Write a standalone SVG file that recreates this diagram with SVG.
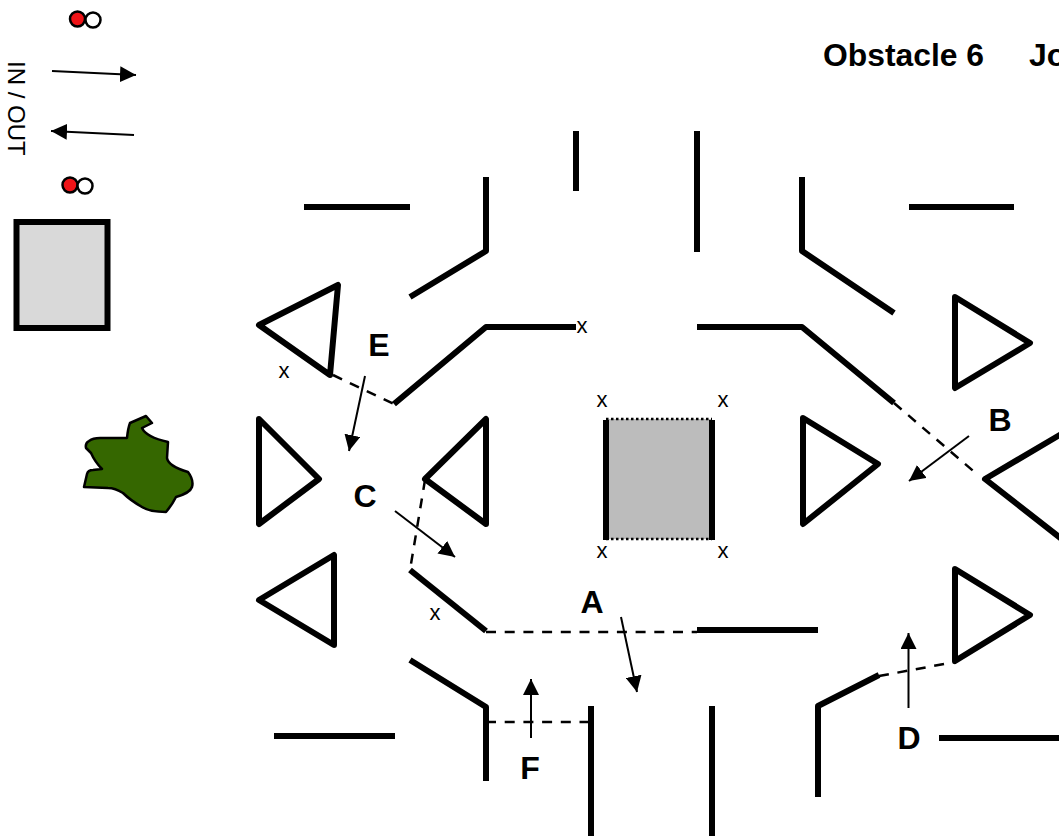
<svg xmlns="http://www.w3.org/2000/svg" width="1059" height="836" viewBox="0 0 1059 836">
<style>
.w{fill:none;stroke:#000;stroke-width:6;stroke-linejoin:round}
.t{fill:#fff;stroke:#000;stroke-width:6;stroke-linejoin:round}
.d{fill:none;stroke:#000;stroke-width:2.500;stroke-dasharray:10 8.700}
.a{fill:none;stroke:#000;stroke-width:2;marker-end:url(#ah)}
.l{font:bold 32px "Liberation Sans",Arial,sans-serif;text-anchor:middle;fill:#000}
.x{font:22px "Liberation Sans",Arial,sans-serif;text-anchor:middle;fill:#000}
.h{font:bold 32px "Liberation Sans",Arial,sans-serif;fill:#000}
.c{stroke:#000;stroke-width:2.500}
</style>
<defs><marker id="ah" markerUnits="userSpaceOnUse" markerWidth="17" markerHeight="16" refX="16" refY="8" orient="auto"><path d="M0 0L16 8L0 16Z" fill="#000"/></marker></defs>
<g id="title"><text class="h" x="823" y="66" textLength="161" lengthAdjust="spacingAndGlyphs">Obstacle 6</text><text class="h" x="1029" y="66">Jo</text></g>
<g id="legend">
<circle class="c" cx="77.500" cy="19" r="7.500" fill="#f01418"/><circle class="c" cx="93" cy="20" r="7.500" fill="#fff"/>
<circle class="c" cx="70" cy="185" r="7.500" fill="#f01418"/><circle class="c" cx="85" cy="186" r="7.500" fill="#fff"/>
<text transform="translate(8,61) rotate(90)" font-family="Liberation Sans, Arial, sans-serif" font-size="24">IN / OUT</text>
<rect x="16.500" y="222" width="91" height="106" fill="#d9d9d9" stroke="#000" stroke-width="6"/>
<path id="blob" d="M84 487L87 474Q88 470 93 470L102 469Q95 462 91 453L86 448Q85 443 89 441Q93 438 100 438L127 438Q128 428 130 423L146 416L152 423L142 428Q146 437 168 442L167 458Q168 466 188 472Q194 480 192 487Q190 493 176 497Q172 505 166 512Q150 512 142 507Q130 500 123 493Q115 488 108 488Z" fill="#356700" stroke="#000" stroke-width="2.500" stroke-linejoin="round"/>
</g>
<g id="obstacle">
<rect x="606" y="419" width="106" height="120" fill="#bcbcbc"/>
<path d="M606 419H712M606 539H712" fill="none" stroke="#000" stroke-width="2.500" stroke-dasharray="2.500 2.500"/>
<path d="M606 420V540M712 420V540" fill="none" stroke="#000" stroke-width="6"/>
</g>
<g id="walls">
<path class="w" d="M304 207H410"/>
<path class="w" d="M410 297L486 251V177"/>
<path class="w" d="M576 131V191"/>
<path class="w" d="M697 131V252"/>
<path class="w" d="M802 177V251L894 313"/>
<path class="w" d="M909 207H1014"/>
<path class="w" d="M394 404L486 327H576"/>
<path class="w" d="M697 327H802L894 403"/>
<path class="w" d="M410 570L486 631"/>
<path class="w" d="M697 630H818"/>
<path class="w" d="M410 660L486 707V781"/>
<path class="w" d="M274 736H395"/>
<path class="w" d="M591 706V836"/>
<path class="w" d="M712 706V836"/>
<path class="w" d="M818 797V706L879 675"/>
<path class="w" d="M939 738H1059"/>
</g>
<g id="triangles">
<path class="t" d="M259 325L338 285L330 375Z"/>
<path class="t" d="M259 419L319 479L259 524Z"/>
<path class="t" d="M425 479L486 419V524Z"/>
<path class="t" d="M259 600L334 555V645Z"/>
<path class="t" d="M955 297L1030 343L955 388Z"/>
<path class="t" d="M803 418L878 464L803 524Z"/>
<path class="t" d="M985 479L1063 433V540Z"/>
<path class="t" d="M955 569L1030 615L955 661Z"/>
</g>
<g id="connectors">
<path class="d" d="M333 375L394 404"/>
<path class="d" d="M425 480L410 570"/>
<path class="d" d="M486 632H697"/>
<path class="d" d="M486 722H591"/>
<path class="d" d="M879 676L955 662"/>
<path class="d" d="M894 403L978 475"/>
<path class="a" d="M52 71L136 75"/>
<path class="a" d="M134 135L51 131"/>
<path class="a" d="M365 376L349 451"/>
<path class="a" d="M395 511L455 557"/>
<path class="a" d="M621 617L637 692"/>
<path class="a" d="M531 738V679"/>
<path class="a" d="M908.500 708V633"/>
<path class="a" d="M969 436L909 481"/>
</g>
<g id="labels">
<text class="l" x="379" y="356">E</text>
<text class="l" x="365" y="507">C</text>
<text class="l" x="592" y="613">A</text>
<text class="l" x="1000" y="431">B</text>
<text class="l" x="909" y="749">D</text>
<text class="l" x="530" y="779">F</text>
<text class="x" x="284" y="378">x</text>
<text class="x" x="582" y="333">x</text>
<text class="x" x="435" y="620">x</text>
<text class="x" x="602" y="407">x</text>
<text class="x" x="723" y="407">x</text>
<text class="x" x="602" y="558">x</text>
<text class="x" x="723" y="558">x</text>
</g>
</svg>
